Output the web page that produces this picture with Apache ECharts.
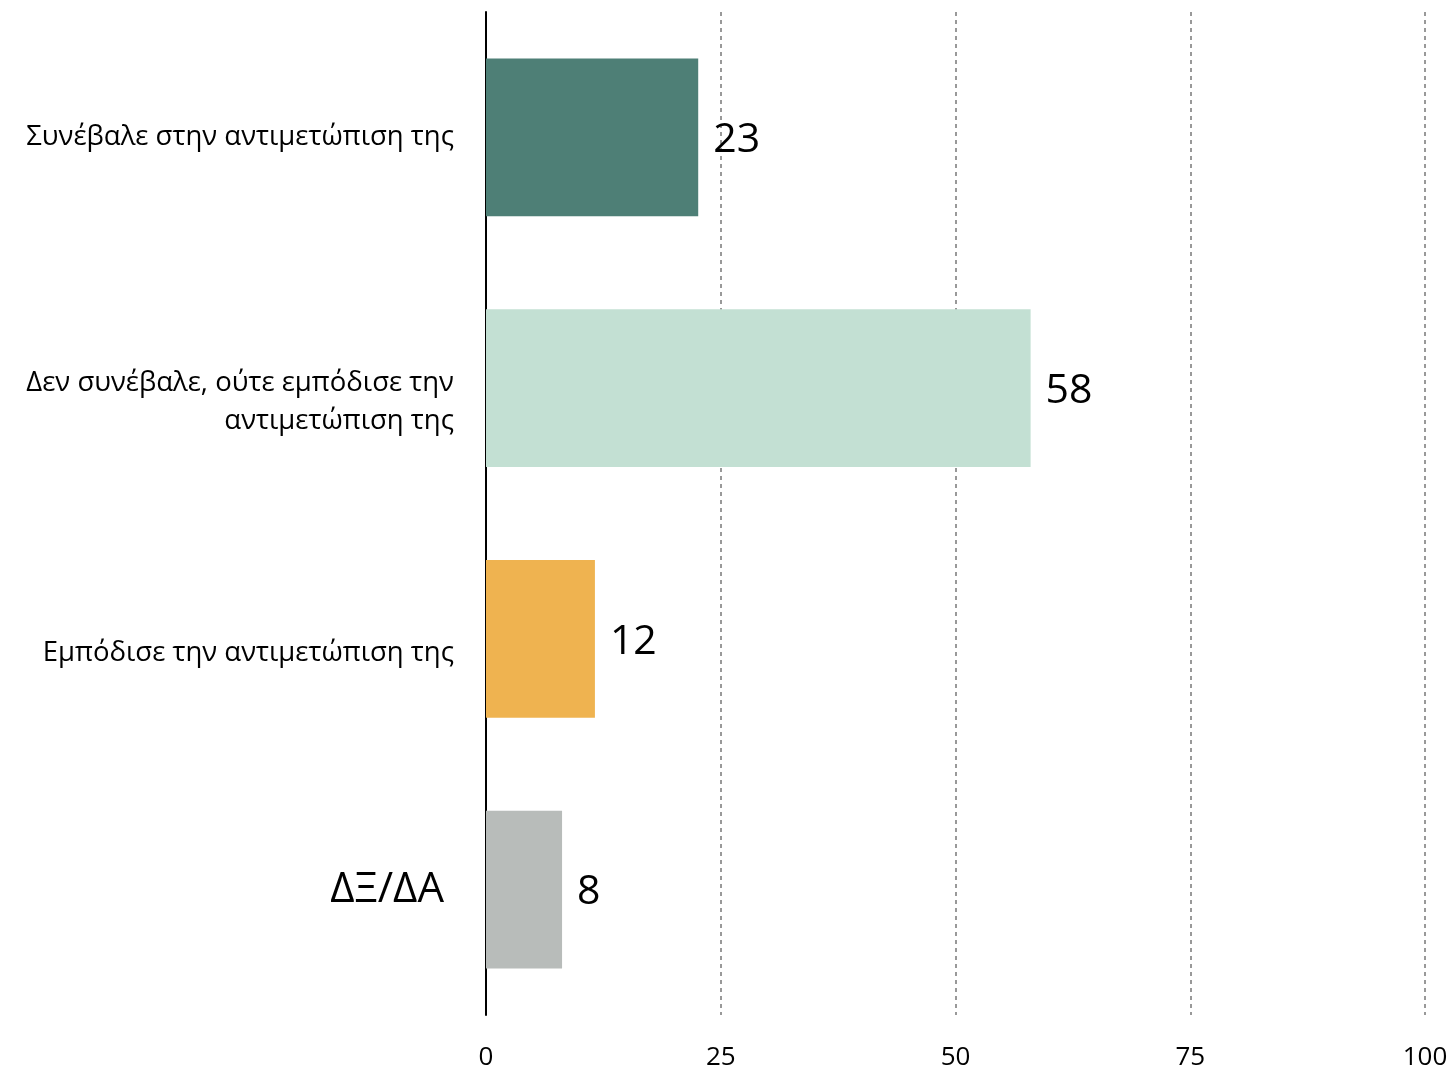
<!DOCTYPE html>
<html>
<head>
<meta charset="utf-8">
<script src="https://cdn.jsdelivr.net/npm/echarts@6/dist/echarts.min.js"></script>
<style>
  html, body { margin: 0; padding: 0; background: #fff; }
  #chart { width: 1455px; height: 1071px; }
</style>
</head>
<body>
<div id="chart"></div>
<script>
// categories from top to bottom
const categories = [
  "Συνέβαλε στην αντιμετώπιση της",
  "Δεν συνέβαλε, ούτε εμπόδισε την\nαντιμετώπιση της",
  "Εμπόδισε την αντιμετώπιση της",
  "ΔΞ/ΔΑ",
];
// bar lengths
const values = [22.6, 58, 11.6, 8.1];
const barColors = ["#4e7f76", "#c3e0d3", "#efb350", "#b8bcba"];
const xTicks = [0, 25, 50, 75, 100];

const FONT = "Open Sans";

const chart = echarts.init(document.getElementById("chart"));

// the middle two labels sit a little below their bars in the original
const labelShift = [0, 28, 28, 0];

const option = {
  backgroundColor: "#fff",
  animation: false,
  grid: {
    left: 486,
    right: 30,
    top: 12,
    bottom: 56,
    containLabel: false,
  },
  xAxis: {
    type: "value",
    min: xTicks[0],
    max: xTicks[xTicks.length - 1],
    interval: 25,
    axisLine: { show: false },
    axisTick: { show: false },
    axisLabel: {
      color: "#000",
      fontFamily: FONT,
      fontSize: 26,
      margin: 30,
    },
    splitLine: {
      show: true,
      lineStyle: { color: "#999999", width: 2, type: [4, 4] },
    },
  },
  yAxis: {
    type: "category",
    inverse: true,
    data: categories.map((c, i) => ({
      value: c,
      textStyle: { padding: [labelShift[i], 0, 0, 0] },
    })),
    axisLine: { show: true, lineStyle: { color: "#000", width: 2 } },
    axisTick: { show: false },
    axisLabel: {
      color: "#000",
      fontFamily: FONT,
      fontSize: 27.5,
      lineHeight: 38,
      margin: 32,
      align: "right",
      formatter: function (v) {
        return v === "ΔΞ/ΔΑ" ? "{big|" + v + "}" : v;
      },
      rich: {
        big: { fontSize: 42, fontFamily: FONT, color: "#000", padding: [0, 10, 0, 0] },
      },
    },
    splitLine: { show: false },
  },
  series: [
    {
      type: "bar",
      barWidth: "63%",
      data: values.map((v, i) => ({ value: v, itemStyle: { color: barColors[i] } })),
      label: {
        show: true,
        position: "right",
        distance: 15,
        offset: [0, 3],
        color: "#000",
        fontFamily: FONT,
        fontSize: 41,
        formatter: (p) => Math.round(p.value),
      },
    },
  ],
};

chart.setOption(option);
</script>
</body>
</html>
